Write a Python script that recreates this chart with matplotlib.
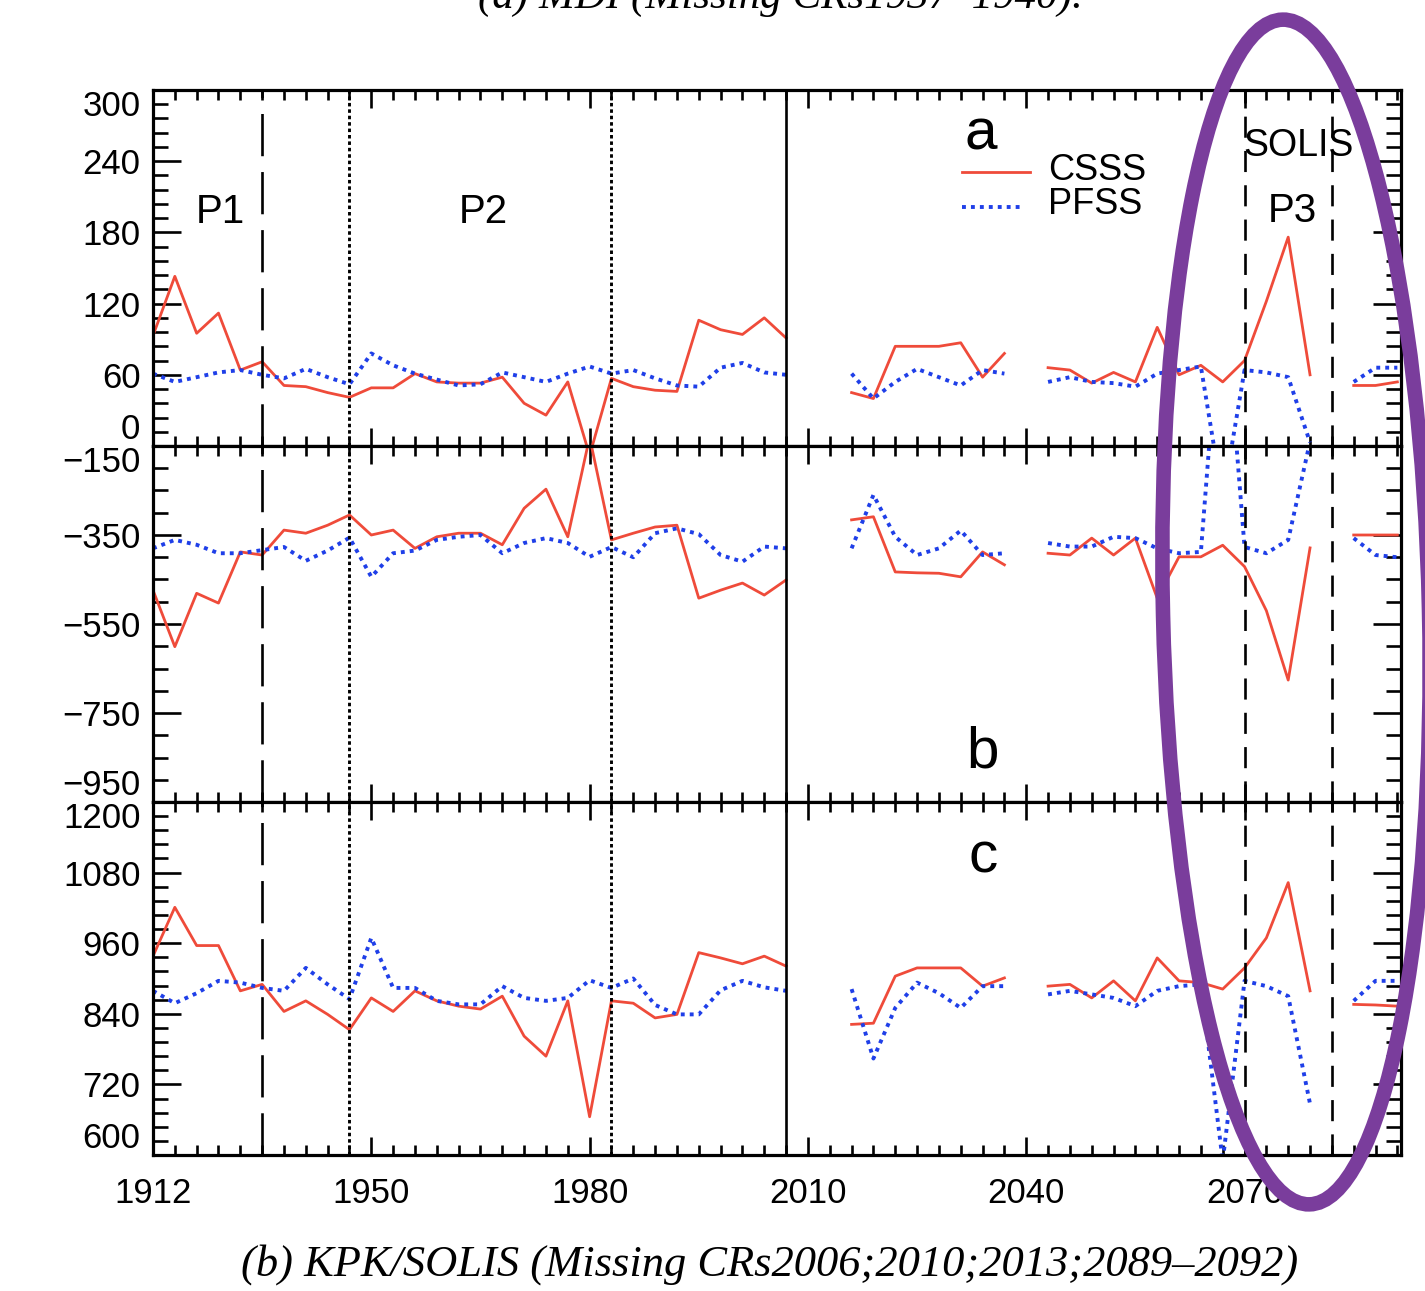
import numpy as np
import matplotlib
matplotlib.use("Agg")
import matplotlib.pyplot as plt
from matplotlib.patches import Ellipse
from matplotlib.ticker import FixedLocator, MultipleLocator

plt.rcParams['font.family'] = ['Liberation Sans', 'DejaVu Sans']

nan = np.nan

# Carrington rotations (3-CR steps); gaps are missing rotations
cr = [1920, 1923, 1926, 1929, 1932, 1935, 1938, 1941, 1944, 1947,
      1950, 1953, 1956, 1959, 1962, 1965, 1968, 1971, 1974, 1977,
      1980, 1983, 1986, 1989, 1992, 1995, 1998, 2001, 2004, 2007,
      2010, 2013, 2016, 2019, 2022, 2025, 2028, 2031, 2034, 2037,
      2040, 2043, 2046, 2049, 2052, 2055, 2058, 2061, 2064, 2067,
      2070, 2073, 2076, 2079, 2082, 2085, 2088, 2091]

csss_a = [93, 143, 95, 112, 64, 71, 51, 50, 45, 41,
          49, 49, 61, 54, 53, 53, 58, 36, 26, 54,
          -8, 57, 50, 47, 46, 106, 98, 94, 108, 91,
          nan, nan, 45, 40, 84, 84, 84, 87, 58, 78,
          nan, 66, 64, 53, 62, 54, 100, 60, 68, 54,
          72, 122, 176, 60, nan, 51, 51, 54]
pfss_a = [61, 54, 58, 62, 64, 60, 57, 65, 58, 52,
          78, 68, 61, 56, 51, 52, 62, 58, 54, 61,
          67, 61, 64, 57, 51, 50, 66, 70, 62, 60,
          nan, nan, 61, 40, 54, 65, 58, 51, 64, 61,
          nan, 54, 58, 54, 53, 50, 61, 64, 67, -45,
          64, 62, 58, 3, nan, 54, 66, 66]

csss_b = [-474, -601, -481, -503, -388, -395, -339, -346, -328, -305,
          -350, -339, -380, -354, -346, -346, -372, -290, -247, -354,
          -130, -361, -346, -332, -328, -492, -474, -458, -485, -451,
          nan, nan, -316, -309, -433, -435, -436, -444, -388, -417,
          nan, -391, -395, -357, -395, -357, -492, -399, -399, -373,
          -421, -520, -676, -379, nan, -350, -350, -350]
pfss_b = [-380, -361, -372, -391, -391, -384, -377, -408, -385, -356,
          -444, -391, -385, -361, -354, -350, -391, -368, -357, -368,
          -399, -377, -400, -346, -335, -348, -395, -410, -376, -380,
          nan, nan, -380, -260, -354, -395, -380, -340, -395, -391,
          nan, -368, -376, -376, -354, -357, -380, -391, -388, 240,
          -377, -391, -361, -140, nan, -357, -395, -400]

csss_c = [938, 1021, 956, 956, 879, 890, 844, 862, 839, 813,
          867, 844, 879, 862, 853, 848, 870, 802, 768, 862,
          665, 862, 858, 833, 839, 944, 935, 925, 938, 921,
          nan, nan, 822, 824, 904, 918, 918, 918, 887, 901,
          nan, 887, 890, 867, 896, 862, 935, 896, 893, 882,
          918, 969, 1063, 879, nan, 856, 855, 853]
pfss_c = [879, 858, 875, 896, 893, 884, 879, 918, 890, 865,
          969, 884, 884, 862, 856, 856, 887, 867, 862, 867,
          897, 884, 900, 855, 839, 839, 880, 896, 885, 879,
          nan, nan, 882, 764, 850, 893, 875, 850, 887, 887,
          nan, 873, 879, 873, 867, 853, 879, 887, 890, 590,
          896, 887, 870, 687, nan, 862, 896, 896]

xticks = [1920, 1950, 1980, 2010, 2040, 2070]
xticklabels = ['1912', '1950', '1980', '2010', '2040', '2070']

panels = [
    (csss_a, pfss_a, (0, 300), 60, 12),
    (csss_b, pfss_b, (-950, -150), 200, 50),
    (csss_c, pfss_c, (600, 1200), 120, 24),
]

red = '#ef4b3a'
blue = '#1f3fe8'
dots = (0, (1.0, 1.3))

W, H = 1425, 1291
fig = plt.figure(figsize=(W / 100, H / 100), dpi=100)
left, right = 153, 1401
tops = [90, 446, 802, 1155]

axes = []
for i, (csss, pfss, ylim, major, minor) in enumerate(panels):
    ax = fig.add_axes([left / W, 1 - tops[i + 1] / H, (right - left) / W,
                       (tops[i + 1] - tops[i]) / H])
    ax.plot(cr, csss, color=red, lw=2.0)
    ax.plot(cr, pfss, color=blue, lw=2.8, ls=dots)

    ax.axvline(1935, color='k', lw=1.9, ls=(0, (16, 6)))
    ax.axvline(1947, color='k', lw=2.1, ls=(0, (1.2, 1.0)))
    ax.axvline(1983, color='k', lw=2.1, ls=(0, (1.2, 1.0)))
    ax.axvline(2007, color='k', lw=1.9)
    ax.axvline(2070, color='k', lw=1.9, ls=(0, (8, 5)))
    ax.axvline(2082, color='k', lw=1.9, ls=(0, (8, 5)))

    ax.set_xlim(1920, 2091.5)
    ax.set_ylim(*ylim)
    ax.xaxis.set_major_locator(FixedLocator(xticks))
    ax.xaxis.set_minor_locator(MultipleLocator(3))
    ax.set_yticks(np.arange(ylim[0], ylim[1] + 1, major))
    ax.yaxis.set_minor_locator(MultipleLocator(minor, offset=ylim[0] % minor))
    ax.tick_params(which='both', direction='in', top=True, right=True,
                   width=1.9, labelsize=25, colors='k')
    ax.tick_params(axis='x', which='major', length=13)
    ax.tick_params(axis='x', which='minor', length=7)
    ax.tick_params(axis='y', which='major', length=20, pad=9)
    ax.tick_params(axis='y', which='minor', length=11)
    for s in ax.spines.values():
        s.set_linewidth(2.3)
    if i < 2:
        ax.set_xticklabels([])
    else:
        ax.set_xticklabels(xticklabels)
        ax.tick_params(axis='x', which='major', pad=16)
    axes.append(ax)

fig.canvas.draw()
for ax in axes:
    labs = ax.get_yticklabels()
    labs[0].set_va('bottom')
    labs[-1].set_va('top')

ax_a, ax_b, ax_c = axes

# legend and panel annotations
ax_a.plot([0.648, 0.703], [0.770, 0.770], color=red, lw=2.0,
          transform=ax_a.transAxes)
ax_a.plot([0.648, 0.698], [0.671, 0.671], color=blue, lw=2.8,
          ls=dots, transform=ax_a.transAxes)
ax_a.text(0.717, 0.775, 'CSSS', fontsize=26, va='center', ha='left',
          transform=ax_a.transAxes)
ax_a.text(0.717, 0.677, 'PFSS', fontsize=26, va='center', ha='left',
          transform=ax_a.transAxes)
ax_a.text(0.663, 0.875, 'a', fontsize=42, va='center', ha='center',
          transform=ax_a.transAxes)
ax_b.text(0.665, 0.140, 'b', fontsize=42, va='center', ha='center',
          transform=ax_b.transAxes)
ax_c.text(0.665, 0.844, 'c', fontsize=42, va='center', ha='center',
          transform=ax_c.transAxes)
ax_a.text(0.054, 0.657, 'P1', fontsize=29, va='center', ha='center',
          transform=ax_a.transAxes)
ax_a.text(0.265, 0.657, 'P2', fontsize=29, va='center', ha='center',
          transform=ax_a.transAxes)
ax_a.text(0.913, 0.660, 'P3', fontsize=29, va='center', ha='center',
          transform=ax_a.transAxes)
ax_a.text(0.918, 0.843, 'SOLIS', fontsize=27, va='center', ha='center',
          transform=ax_a.transAxes)

# sub-figure captions
fig.text(780 / W, 1 + 2 / H, '(a) MDI (Missing CRs1937\u20131940).',
         fontsize=31, style='italic', family='Liberation Serif',
         ha='center', va='center')
fig.text(770 / W, 1 - 1265 / H,
         '(b) KPK/SOLIS (Missing CRs2006;2010;2013;2089\u20132092)',
         fontsize=32, style='italic', family='Liberation Serif',
         ha='center', va='center')

# highlight around the SOLIS period
ring = Ellipse((12.96, (H - 612) / 100), 2.66, 11.85, angle=1.3,
               fill=False, edgecolor='#7a3d9c', lw=10.5,
               transform=fig.dpi_scale_trans)
fig.patches.append(ring)

fig.savefig('out.png', dpi=100)
